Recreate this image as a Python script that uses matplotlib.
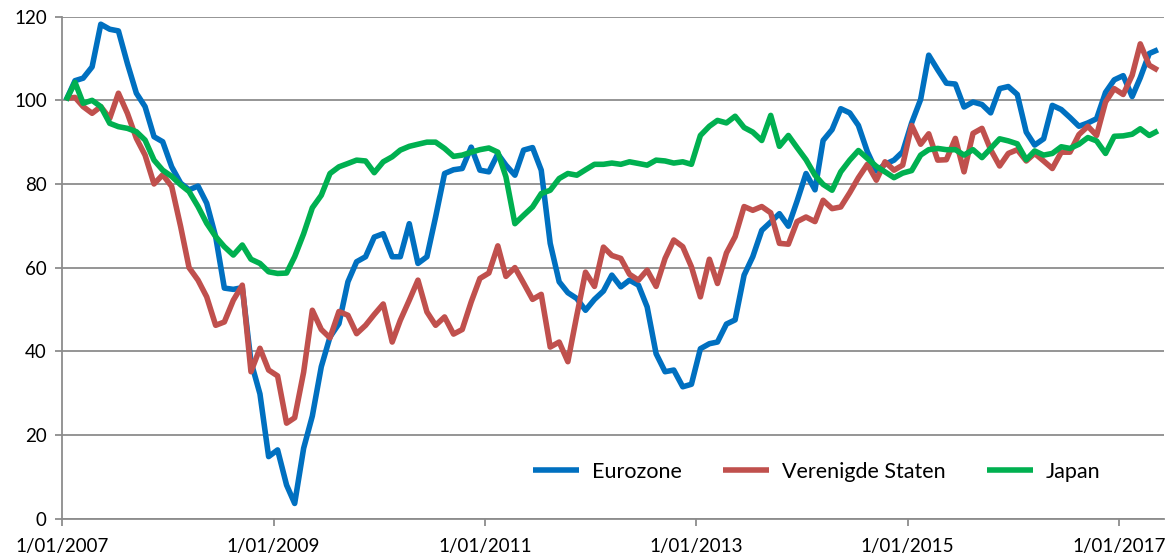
import matplotlib
matplotlib.use("Agg")
import matplotlib.pyplot as plt
import matplotlib.dates as mdates
import pandas as pd
import numpy as np

# ---- data (monthly, Jan 2007 - May 2017) ----
start_month = "2007-01-01"
n_months = 125

eurozone = [
    100.0, 104.7, 105.3, 108.0, 118.2, 117.0, 116.6, 108.8, 101.7, 98.5,
    91.3, 90.1, 84.1, 80.2, 78.6, 79.5, 75.4, 67.4, 55.1, 54.8,
    55.2, 37.5, 29.8, 14.8, 16.4, 8.0, 3.6, 16.8, 24.5, 36.3,
    43.4, 46.6, 56.6, 61.4, 62.6, 67.3, 68.1, 62.6, 62.6, 70.5,
    61.0, 62.6, 72.1, 82.5, 83.4, 83.7, 88.8, 83.3, 82.9, 87.2,
    84.5, 82.1, 88.1, 88.7, 83.3, 65.8, 56.6, 54.0, 52.6, 49.8,
    52.4, 54.4, 58.2, 55.4, 57.0, 55.8, 50.6, 39.4, 35.1, 35.5,
    31.5, 32.1, 40.6, 41.8, 42.2, 46.5, 47.5, 58.2, 62.6, 68.9,
    70.9, 72.9, 69.9, 75.9, 82.5, 78.6, 90.4, 93.0, 98.0, 97.0,
    94.0, 87.7, 83.1, 84.7, 85.7, 87.7, 94.6, 100.2, 110.8, 107.3,
    104.1, 103.9, 98.4, 99.6, 99.0, 97.0, 102.8, 103.3, 101.4, 92.4,
    89.3, 90.8, 98.8, 97.8, 95.9, 93.8, 94.6, 95.6, 101.9, 104.9,
    105.9, 100.9, 105.4, 111.2, 112.1,
]

verenigde_staten = [
    100.5, 100.7, 98.5, 96.9, 98.5, 95.7, 101.7, 96.9, 90.9, 86.9,
    80.0, 82.2, 79.4, 69.8, 60.0, 57.0, 53.0, 46.2, 47.0, 52.2,
    55.8, 35.1, 40.7, 35.5, 34.1, 22.8, 24.1, 35.0, 49.8, 45.2,
    43.2, 49.5, 48.6, 44.2, 46.2, 48.8, 51.3, 42.2, 47.4, 52.2,
    57.0, 49.4, 46.2, 48.2, 44.1, 45.2, 51.8, 57.4, 58.7, 65.2,
    57.9, 60.0, 56.3, 52.4, 53.6, 41.0, 42.2, 37.5, 48.6, 58.9,
    55.5, 64.9, 62.9, 62.2, 58.4, 57.0, 59.4, 55.5, 62.2, 66.6,
    65.0, 60.2, 53.0, 62.0, 56.2, 63.5, 67.4, 74.6, 73.7, 74.6,
    73.1, 65.8, 65.6, 71.0, 72.1, 71.0, 76.1, 74.1, 74.5, 77.9,
    81.5, 84.7, 80.9, 85.3, 83.3, 84.5, 94.0, 89.5, 92.0, 85.7,
    85.8, 90.9, 82.9, 92.1, 93.3, 88.2, 84.3, 87.3, 88.2, 85.5,
    87.3, 85.5, 83.7, 87.6, 87.6, 91.8, 93.8, 91.6, 99.6, 102.8,
    101.4, 106.0, 113.5, 108.4, 107.2,
]

japan = [
    100.0, 104.3, 99.3, 100.0, 98.5, 94.5, 93.7, 93.3, 92.5, 90.5,
    85.7, 83.3, 81.8, 79.8, 78.2, 74.6, 70.6, 67.4, 65.0, 63.0,
    65.4, 62.0, 61.0, 59.0, 58.6, 58.7, 62.6, 68.1, 74.3, 77.3,
    82.5, 84.1, 84.9, 85.7, 85.5, 82.7, 85.3, 86.5, 88.1, 89.0,
    89.5, 90.0, 90.0, 88.5, 86.6, 86.9, 87.6, 88.2, 88.6, 87.6,
    81.7, 70.5, 72.5, 74.5, 77.7, 78.5, 81.3, 82.5, 82.1, 83.4,
    84.7, 84.7, 85.0, 84.7, 85.3, 84.9, 84.5, 85.7, 85.5, 85.0,
    85.3, 84.7, 91.6, 93.8, 95.2, 94.6, 96.2, 93.5, 92.4, 90.4,
    96.4, 89.0, 91.6, 88.7, 85.8, 82.1, 79.9, 78.5, 82.9, 85.7,
    88.0, 86.1, 84.2, 82.9, 81.5, 82.6, 83.2, 86.9, 88.2, 88.5,
    88.2, 88.2, 86.9, 88.2, 86.3, 88.5, 90.8, 90.3, 89.6, 85.8,
    87.9, 86.9, 87.3, 88.9, 88.5, 89.5, 91.1, 90.3, 87.3, 91.4,
    91.5, 91.9, 93.2, 91.6, 92.7,
]

series_names = ["Eurozone", "Verenigde Staten", "Japan"]
series_colors = ["#0070C0", "#C0504D", "#00B050"]
y_ticks = [0, 20, 40, 60, 80, 100, 120]
x_tick_dates = ["2007-01-01", "2009-01-01", "2011-01-01", "2013-01-01",
                "2015-01-01", "2017-01-01"]

dates = pd.date_range(start_month, periods=n_months, freq="MS") + pd.Timedelta(days=14)

plt.rcParams["font.family"] = ["Lato", "DejaVu Sans"]

fig = plt.figure(figsize=(11.76, 5.58), dpi=100)
ax = fig.add_axes([62 / 1176, (558 - 518.5) / 558, (1164 - 62) / 1176, (518.5 - 16.7) / 558])

grid_col = "#8C8C8C"
ax.set_axisbelow(True)
ax.yaxis.grid(True, color=grid_col, linewidth=1.3)

for vals, name, col in zip([eurozone, verenigde_staten, japan], series_names, series_colors):
    ax.plot(dates, vals, color=col, linewidth=4.0, label=name,
            solid_joinstyle="round", solid_capstyle="butt")

ax.set_ylim(0, 120)
ax.set_yticks(y_ticks)
ax.set_xlim(pd.Timestamp("2007-01-01"), pd.Timestamp("2017-06-05"))
ax.set_xticks(pd.to_datetime(x_tick_dates))
ax.xaxis.set_major_formatter(
    matplotlib.ticker.FuncFormatter(
        lambda v, p: (lambda d: f"{d.day}/{d.month:02d}/{d.year}")(mdates.num2date(v))
    )
)

for s in ["top", "right"]:
    ax.spines[s].set_visible(False)
for s in ["left", "bottom"]:
    ax.spines[s].set_color(grid_col)
    ax.spines[s].set_linewidth(1.3)

ax.tick_params(axis="both", colors=grid_col, labelcolor="black", labelsize=13.5,
               width=1.3, length=5, direction="out")
ax.tick_params(axis="x", pad=9)
ax.tick_params(axis="y", pad=6)

ax.legend(loc="center", bbox_to_anchor=(0.685, 0.093), ncol=3, frameon=False,
          fontsize=15.5, handlelength=2.15, handletextpad=0.6, columnspacing=1.9)

fig.savefig("out.png", dpi=100)
